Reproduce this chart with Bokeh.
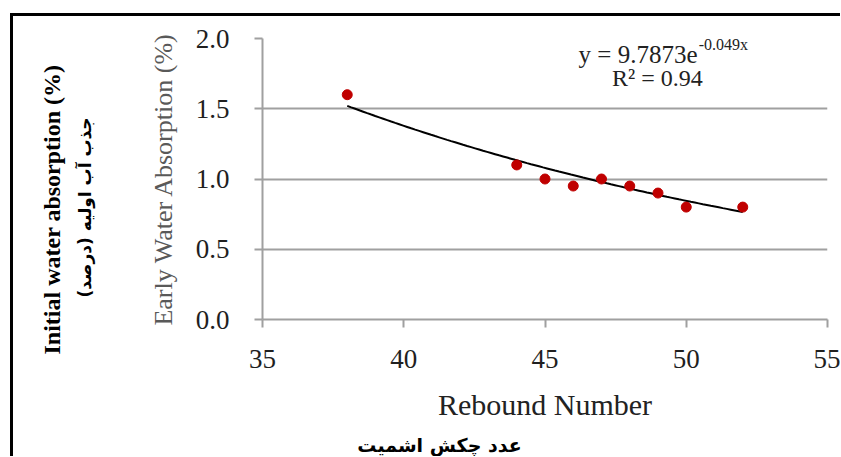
import numpy as np
from bokeh.plotting import figure
from bokeh.layouts import row, column
from bokeh.models import Label, FixedTicker, ColumnDataSource, Range1d
from bokeh.embed import file_html
from bokeh.resources import INLINE

# ---- data ----
rebound = [38, 44, 45, 46, 47, 48, 49, 50, 52]
absorption = [1.60, 1.10, 1.00, 0.95, 1.00, 0.95, 0.90, 0.80, 0.80]

# exponential trendline shown on the chart: y = A * exp(B * x)
fit_a = 9.7873
fit_b = -0.049
fit_r2 = 0.94

x_ticks = [35, 40, 45, 50, 55]
y_ticks = [0.0, 0.5, 1.0, 1.5, 2.0]
y_tick_labels = ["0.0", "0.5", "1.0", "1.5", "2.0"]

x_title = "Rebound Number"
y_title = "Early Water Absorption (%)"
outer_y_title_en = "Initial water absorption (%)"
outer_y_title_fa = "جذب آب اولیه (درصد)"
outer_x_title_fa = "عدد چکش اشمیت"

SERIF = "Liberation Serif"
FA_FONT = "DejaVu Sans"
GRID = "#a0a0a0"

LEFT_W = 120
MAIN_W = 707
TOP_H = 416
BOT_H = 24


def blank(width, height):
    f = figure(width=width, height=height, x_range=Range1d(0, width),
               y_range=Range1d(0, height), x_axis_type=None, y_axis_type=None,
               output_backend="svg", toolbar_location=None,
               min_border_left=0, min_border_right=0,
               min_border_top=0, min_border_bottom=0)
    f.frame_align = False
    f.outline_line_color = None
    f.grid.visible = False
    f.background_fill_color = "white"
    f.border_fill_color = "white"
    return f


# ---- left strip with the outer (bilingual) y title ----
left = blank(LEFT_W, TOP_H)
left.add_layout(Label(x=38, y=TOP_H - 193, text=outer_y_title_en, text_font=SERIF,
                      text_font_size="24px", text_font_style="bold", angle=np.pi / 2,
                      text_align="center", text_baseline="middle", text_color="black"))
left.add_layout(Label(x=71, y=TOP_H - 191, text=outer_y_title_fa, text_font=FA_FONT,
                      text_font_size="17px", text_font_style="bold", angle=np.pi / 2,
                      text_align="center", text_baseline="middle", text_color="black"))

# ---- main chart ----
p = figure(width=MAIN_W, height=TOP_H, x_range=(35, 55), y_range=(0, 2.0),
           output_backend="svg", toolbar_location=None,
           min_border_left=129, min_border_right=13,
           min_border_top=22, min_border_bottom=TOP_H - 303)
p.frame_align = False
p.outline_line_color = None
p.background_fill_color = "white"
p.border_fill_color = "white"

p.xgrid.visible = False
p.ygrid.grid_line_color = GRID
p.ygrid.grid_line_width = 2
p.ygrid.ticker = FixedTicker(ticks=y_ticks)

for ax in (p.xaxis[0], p.yaxis[0]):
    ax.axis_line_color = GRID
    ax.axis_line_width = 2
    ax.major_tick_line_color = GRID
    ax.major_tick_line_width = 2
    ax.major_tick_out = 8
    ax.major_tick_in = 0
    ax.minor_tick_line_color = None
    ax.major_label_text_font = SERIF
    ax.major_label_text_font_size = "27px"
    ax.major_label_text_color = "#1f1f1f"
    ax.axis_label_text_font = SERIF
    ax.axis_label_text_font_style = "normal"

p.xaxis.ticker = FixedTicker(ticks=x_ticks)
p.xaxis.major_label_standoff = 22
p.yaxis.ticker = FixedTicker(ticks=y_ticks)
p.yaxis.major_label_standoff = 25
p.yaxis.major_label_overrides = {t: l for t, l in zip(y_ticks, y_tick_labels)}
p.xaxis.axis_label = x_title
p.xaxis.axis_label_text_font_size = "30px"
p.xaxis.axis_label_text_color = "#222222"
p.xaxis.axis_label_standoff = 17
p.yaxis.axis_label = y_title
p.yaxis.axis_label_text_font_size = "26px"
p.yaxis.axis_label_text_color = "#595959"
p.yaxis.axis_label_standoff = 15

# trendline
xf = np.linspace(min(rebound), max(rebound), 100)
yf = fit_a * np.exp(fit_b * xf)
p.line(xf, yf, line_color="black", line_width=2)

# points
src = ColumnDataSource(dict(x=rebound, y=absorption))
p.scatter("x", "y", source=src, size=10, fill_color="#C00000", line_color="#C00000")

# equation
p.add_layout(Label(x=50.40, y=1.887, text="y = %.4fe" % fit_a, text_font=SERIF,
                   text_font_size="25px", text_align="right", text_baseline="middle",
                   text_color="#222222"))
p.add_layout(Label(x=50.44, y=1.955, text="%.3fx" % fit_b, text_font=SERIF,
                   text_font_size="16px", text_align="left", text_baseline="middle",
                   text_color="#222222"))
p.add_layout(Label(x=48.98, y=1.718, text="R\u00b2 = %.2f" % fit_r2, text_font=SERIF,
                   text_font_size="24px", text_align="center", text_baseline="middle",
                   text_color="#222222"))

# ---- bottom strip with the Persian x title ----
bottom = blank(LEFT_W + MAIN_W, BOT_H)
bottom.add_layout(Label(x=426, y=BOT_H - 12, text=outer_x_title_fa, text_font=FA_FONT,
                        text_font_size="19px", text_font_style="bold",
                        text_align="center", text_baseline="middle", text_color="black"))

layout = column(row(left, p), bottom)
layout.styles = {"margin-left": "10px", "margin-top": "13px",
                 "border-left": "3px solid black", "border-top": "3px solid black"}

open("out.html", "w").write(file_html(layout, INLINE))
